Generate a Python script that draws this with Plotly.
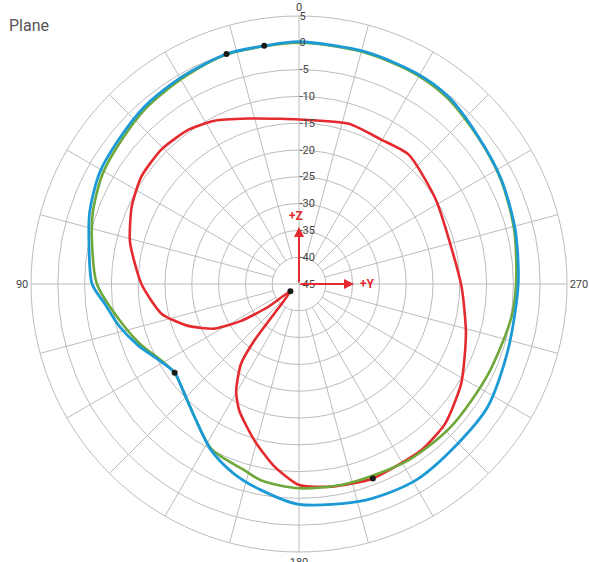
import plotly.graph_objects as go

# Radiation pattern, gain in dB. Angles in degrees: 0 at top, increasing counter-clockwise.
blue_theta = [0, 8.3, 17.5, 29.6, 41, 51.3, 60.8, 71, 79.8, 90, 95.9, 103.4, 111, 119.5,
              125.5, 132.7, 141.7, 152.2, 161, 169.6, 180, 197.2, 210.7, 225, 237.1,
              252.3, 270, 284.2, 297.4, 309.4, 321.4, 331.1, 344, 360]
blue_db = [0.2, -0.1, 0.0, -0.6, -1.1, -1.9, -2.4, -3.7, -5.2, -6.4, -8.6, -10.6, -12.9, -15.5,
           -16.5, -15.6, -13.5, -9.9, -7.6, -5.9, -3.9, -2.8, -2.4, -3.0, -3.0,
           -4.1, -4.1, -3.4, -2.5, -1.7, -0.3, 0.0, 0.05, 0.2]

green_theta = [0, 17.5, 29.6, 41, 51.3, 60.8, 71, 79.8, 90, 103.8, 111, 119.5, 125.5, 132.7,
               141.7, 152.2, 163.6, 169, 180, 194, 211.9, 226.9, 244.6, 261, 270, 284.2,
               297.4, 309.4, 321.4, 331.1, 344, 360]
green_db = [0.0, -0.1, -0.9, -1.5, -2.4, -3.0, -4.3, -5.8, -7.3, -11.5, -13.4, -15.7, -16.5, -15.6,
            -13.5, -10.1, -8.8, -7.7, -6.9, -6.7, -6.3, -6.1, -5.9, -4.9, -4.5, -3.6,
            -2.6, -1.8, -0.6, -0.2, -0.1, 0.0]

red_theta = [0, 6.2, 17.1, 27.4, 35.6, 45.6, 55.6, 65.1, 76, 90, 102.3, 110.7, 117.9, 122.5,
             126.6, 130, 140.2, 141.7, 144, 149.5, 154.7, 164, 172.2, 180, 189.3, 200.8,
             216.4, 226.4, 238.5, 253.4, 269.3, 301.8, 319.8, 330.2, 342.7, 360]
red_db = [-14.3, -14.0, -12.7, -10.7, -9.6, -9.1, -9.4, -10.6, -12.5, -15.6, -18.8, -22.9, -27.2, -32.2,
          -37.8, -42.9, -37.7, -31.5, -26.6, -21.9, -18.9, -14.7, -10.7, -7.5, -6.7, -6.2,
          -6.5, -7.3, -9.5, -12.5, -14.7, -15.0, -13.35, -14.0, -13.7, -14.3]

# Measurement markers
dot_theta = [8.3, 17.5, 125.5, 130, 200.8]
dot_db = [-0.1, 0.0, -16.5, -42.9, -6.2]

radial_ticks = [-45, -40, -35, -30, -25, -20, -15, -10, -5, 0, 5]
radial_labels = ["-45", "-40", "-35", "-30", "-25", "-20", "-15", "-10", "-5", "0", "5"]
angle_ticks = [0, 90, 180, 270]
angle_labels = ["0", "90", "180", "270"]

GRID = "#bcbcbc"
BLUE = "#1b9ad6"
GREEN = "#6fa83a"
RED = "#e42a2e"
FONT = "Roboto"

W, H = 589, 562
CX, CY, R = 299, 284, 268

fig = go.Figure()

# Spokes every 15 degrees, starting at the -40 dB ring
spoke_t, spoke_r = [], []
for a in range(0, 360, 15):
    if a % 90 == 0:
        continue
    spoke_t += [a, a, None]
    spoke_r += [-40, 5, None]
fig.add_trace(go.Scatterpolar(theta=spoke_t, r=spoke_r, mode="lines",
                              line=dict(color=GRID, width=1), hoverinfo="skip",
                              connectgaps=False, showlegend=False))

fig.add_trace(go.Scatterpolar(theta=red_theta, r=red_db, mode="lines",
                              line=dict(color=RED, width=2.6, shape="spline", smoothing=0.6),
                              showlegend=False))
fig.add_trace(go.Scatterpolar(theta=green_theta, r=green_db, mode="lines",
                              line=dict(color=GREEN, width=2.6, shape="spline", smoothing=0.8),
                              showlegend=False))
fig.add_trace(go.Scatterpolar(theta=blue_theta, r=blue_db, mode="lines",
                              line=dict(color=BLUE, width=2.8, shape="spline", smoothing=0.8),
                              showlegend=False))
fig.add_trace(go.Scatterpolar(theta=dot_theta, r=dot_db, mode="markers",
                              marker=dict(color="#1a1a1a", size=6), showlegend=False))

def px(x):
    return x / W

def py(y):
    return 1 - y / H

annotations = [
    dict(x=px(CX), y=py(227), xref="paper", yref="paper", ax=0, ay=57, text="",
         showarrow=True, arrowhead=2, arrowsize=1, arrowwidth=2, arrowcolor=RED),
    dict(x=px(354), y=py(CY), xref="paper", yref="paper", ax=-55, ay=0, text="",
         showarrow=True, arrowhead=2, arrowsize=1, arrowwidth=2, arrowcolor=RED),
    dict(x=px(296), y=py(216), xref="paper", yref="paper", text="<b>+Z</b>", showarrow=False,
         font=dict(family=FONT, size=12, color=RED)),
    dict(x=px(367), y=py(CY), xref="paper", yref="paper", text="<b>+Y</b>", showarrow=False,
         font=dict(family=FONT, size=12, color=RED)),
    dict(x=px(7), y=py(25), xref="paper", yref="paper", text="Plane", showarrow=False,
         xanchor="left", yanchor="middle", font=dict(family=FONT, size=16, color="#555555")),
]

fig.update_layout(
    width=W, height=H,
    margin=dict(l=0, r=0, t=0, b=0),
    paper_bgcolor="white",
    plot_bgcolor="white",
    showlegend=False,
    annotations=annotations,
    polar=dict(
        domain=dict(x=[(CX - R) / W, (CX + R) / W], y=[(H - CY - R) / H, (H - CY + R) / H]),
        bgcolor="white",
        radialaxis=dict(range=[-45, 5], tickvals=radial_ticks, ticktext=radial_labels,
                        angle=90, tickangle=90, side="clockwise", showline=False, ticks="",
                        gridcolor=GRID, gridwidth=1,
                        tickfont=dict(family=FONT, size=11, color="#444444")),
        angularaxis=dict(rotation=90, direction="counterclockwise",
                         tickvals=angle_ticks, ticktext=angle_labels, ticks="",
                         showline=True, linecolor=GRID, linewidth=1,
                         gridcolor=GRID, gridwidth=1,
                         tickfont=dict(family=FONT, size=11, color="#444444")),
    ),
)

fig.write_html("out.html")
